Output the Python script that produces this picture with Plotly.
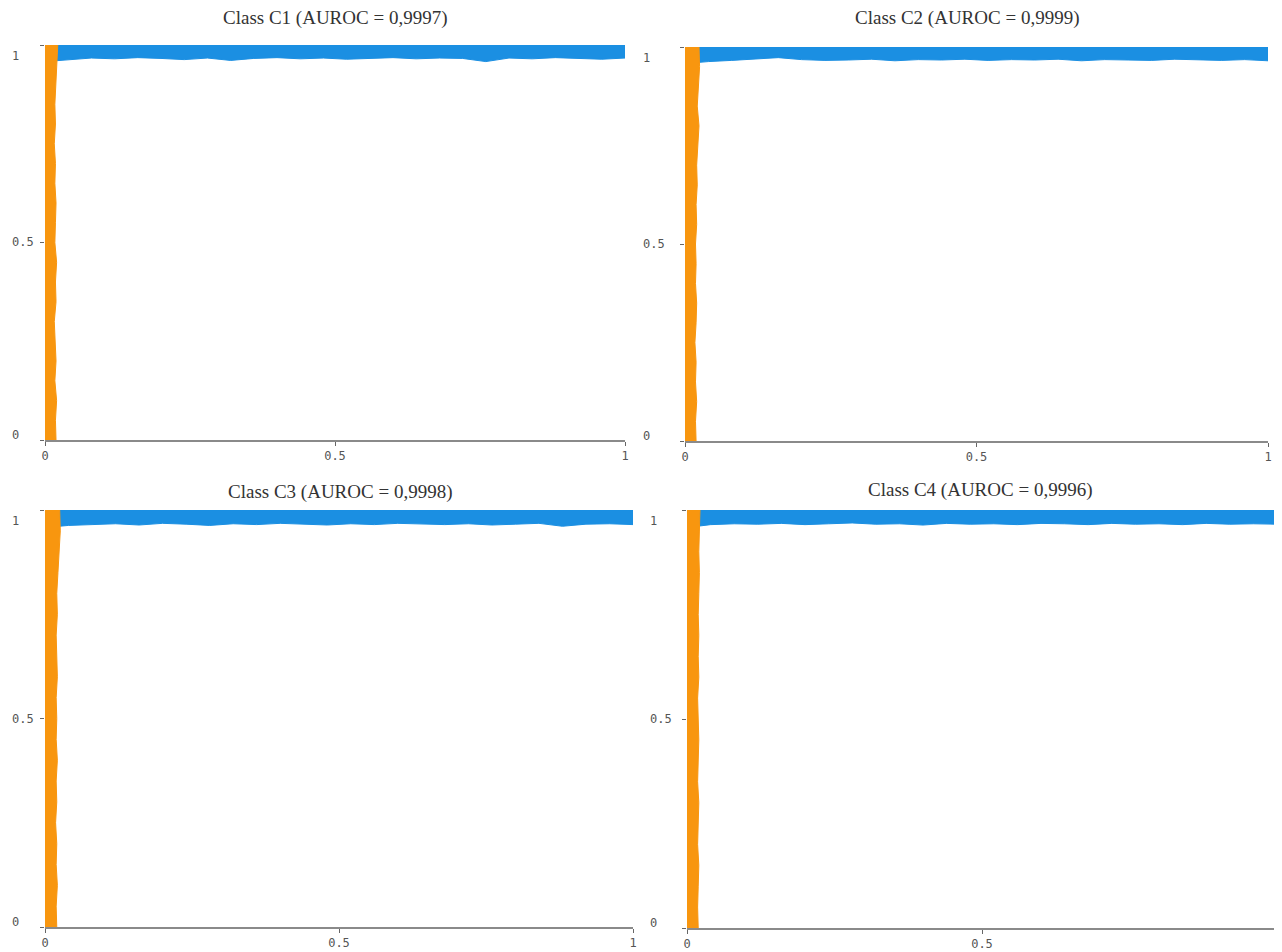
import plotly.graph_objects as go

# ---- data ----
titles = ["Class C1 (AUROC = 0,9997)", "Class C2 (AUROC = 0,9999)",
          "Class C3 (AUROC = 0,9998)", "Class C4 (AUROC = 0,9996)"]

# blue band: lower ragged edge of TPR points near 1 along FPR
blue_x = [0.00, 0.04, 0.08, 0.12, 0.16, 0.20, 0.24, 0.28, 0.32, 0.36, 0.40, 0.44, 0.48,
          0.52, 0.56, 0.60, 0.64, 0.68, 0.72, 0.76, 0.80, 0.84, 0.88, 0.92, 0.96, 1.00]
blue_low_c1 = [0.958, 0.962, 0.967, 0.965, 0.968, 0.966, 0.963, 0.967, 0.961, 0.966, 0.968, 0.965,
               0.967, 0.964, 0.966, 0.968, 0.965, 0.967, 0.966, 0.958, 0.967, 0.965, 0.968, 0.966, 0.964, 0.967]
blue_low_c2 = [0.958, 0.963, 0.966, 0.969, 0.973, 0.968, 0.966, 0.967, 0.969, 0.965, 0.968, 0.967,
               0.969, 0.966, 0.968, 0.967, 0.969, 0.965, 0.968, 0.967, 0.966, 0.969, 0.967, 0.966, 0.968, 0.965]
blue_low_c3 = [0.958, 0.963, 0.965, 0.967, 0.964, 0.968, 0.966, 0.963, 0.967, 0.965, 0.968, 0.966,
               0.964, 0.967, 0.965, 0.968, 0.966, 0.965, 0.967, 0.964, 0.966, 0.968, 0.961, 0.966, 0.967, 0.965]
blue_low_c4 = [0.958, 0.965, 0.967, 0.966, 0.968, 0.965, 0.967, 0.969, 0.966, 0.967, 0.964, 0.968,
               0.966, 0.967, 0.965, 0.968, 0.967, 0.965, 0.968, 0.966, 0.967, 0.965, 0.968, 0.966, 0.967, 0.966]

# orange band: right ragged edge of FPR points near 0 along TPR
orange_y = [0.00, 0.05, 0.10, 0.15, 0.20, 0.25, 0.30, 0.35, 0.40, 0.45, 0.50,
            0.55, 0.60, 0.65, 0.70, 0.75, 0.80, 0.85, 0.90, 0.95, 1.00]
orange_edge_c1 = [0.019, 0.018, 0.020, 0.017, 0.019, 0.018, 0.016, 0.019, 0.018, 0.020, 0.017,
                  0.018, 0.019, 0.017, 0.018, 0.016, 0.018, 0.017, 0.019, 0.020, 0.022]
orange_edge_c2 = [0.019, 0.018, 0.020, 0.018, 0.019, 0.017, 0.019, 0.020, 0.018, 0.019, 0.018,
                  0.020, 0.019, 0.021, 0.020, 0.022, 0.024, 0.021, 0.023, 0.025, 0.024]
orange_edge_c3 = [0.020, 0.019, 0.021, 0.019, 0.020, 0.018, 0.020, 0.019, 0.021, 0.019, 0.020,
                  0.019, 0.021, 0.020, 0.019, 0.021, 0.020, 0.022, 0.024, 0.026, 0.025]
orange_edge_c4 = [0.019, 0.018, 0.019, 0.020, 0.018, 0.019, 0.020, 0.018, 0.019, 0.020, 0.019,
                  0.018, 0.020, 0.019, 0.020, 0.019, 0.020, 0.021, 0.020, 0.021, 0.022]

blue_lows = [blue_low_c1, blue_low_c2, blue_low_c3, blue_low_c4]
orange_edges = [orange_edge_c1, orange_edge_c2, orange_edge_c3, orange_edge_c4]

tick_vals = [0, 0.5, 1]
tick_text = ["0", "0.5", "1"]

# ---- layout geometry (page px; the page body adds an 8px offset) ----
OFF = 8
W, H = 1274, 944
panels = [  # (left, right, top, bottom) in page px
    (45, 625, 45, 440),
    (685, 1268, 47, 441),
    (45, 633, 510, 927),
    (687, 1277, 510, 928),
]
ylabel_left = [10, 641, 10, 648]           # left edge of y tick labels (page px)
ylabel_shift = {0: 5, 0.5: 0, 1: -11}      # vertical nudge of y tick labels (px)
title_pos = [(335, 18), (967, 18), (340, 492), (980, 490)]

BLUE = "#1b8fe2"
ORANGE = "#f8960f"

fig = go.Figure()
for i in range(4):
    xa = "x" if i == 0 else f"x{i+1}"
    ya = "y" if i == 0 else f"y{i+1}"
    bx = blue_x + blue_x[::-1]
    by = blue_lows[i] + [1.0] * len(blue_x)
    fig.add_trace(go.Scatter(x=bx, y=by, fill="toself", fillcolor=BLUE, mode="lines",
                             line=dict(color=BLUE, width=1), xaxis=xa, yaxis=ya,
                             showlegend=False, hoverinfo="skip"))
    ox = orange_edges[i] + [0.0] * len(orange_y)
    oy = orange_y + orange_y[::-1]
    fig.add_trace(go.Scatter(x=ox, y=oy, fill="toself", fillcolor=ORANGE, mode="lines",
                             line=dict(color=ORANGE, width=1), xaxis=xa, yaxis=ya,
                             showlegend=False, hoverinfo="skip"))

layout = dict(width=W, height=H, margin=dict(l=0, r=0, t=0, b=0, autoexpand=False),
              plot_bgcolor="white", paper_bgcolor="white", showlegend=False)
tickfont = dict(family="DejaVu Sans Mono", size=12, color="#555555")
for i, (l, r, t, b) in enumerate(panels):
    l, r, t, b = l - OFF, r - OFF, t - OFF, b - OFF
    sx = "xaxis" if i == 0 else f"xaxis{i+1}"
    sy = "yaxis" if i == 0 else f"yaxis{i+1}"
    ya = "y" if i == 0 else f"y{i+1}"
    xa = "x" if i == 0 else f"x{i+1}"
    layout[sx] = dict(domain=[l / W, min(r / W, 1)], range=[0, 1], anchor=ya,
                      showgrid=False, zeroline=False, showline=True, linecolor="#8a8a8a",
                      linewidth=2, ticks="outside", ticklen=4, tickcolor="#666666",
                      tickvals=tick_vals, ticktext=tick_text, tickfont=tickfont,
                      automargin=False, fixedrange=True)
    layout[sy] = dict(domain=[1 - b / H, 1 - t / H], range=[0, 1], anchor=xa,
                      showgrid=False, zeroline=False, showline=False,
                      ticks="outside", ticklen=4, tickcolor="#666666",
                      tickvals=tick_vals, showticklabels=False,
                      automargin=False, fixedrange=True)
fig.update_layout(**layout)

# y tick labels (left aligned, as in the reference)
for i in range(4):
    ya = "y" if i == 0 else f"y{i+1}"
    for v, t in zip(tick_vals, tick_text):
        fig.add_annotation(text=t, x=(ylabel_left[i] - OFF) / W, xref="paper",
                           y=v, yref=ya, yshift=ylabel_shift[v],
                           showarrow=False, xanchor="left", yanchor="middle",
                           font=dict(family="DejaVu Sans Mono", size=12, color="#555555"))

for txt, (px, py) in zip(titles, title_pos):
    fig.add_annotation(text=txt, x=(px - OFF) / W, y=1 - (py - OFF) / H,
                       xref="paper", yref="paper",
                       showarrow=False, xanchor="center", yanchor="middle",
                       font=dict(family="Liberation Serif", size=19, color="#333333"))

fig.write_html("out.html")
